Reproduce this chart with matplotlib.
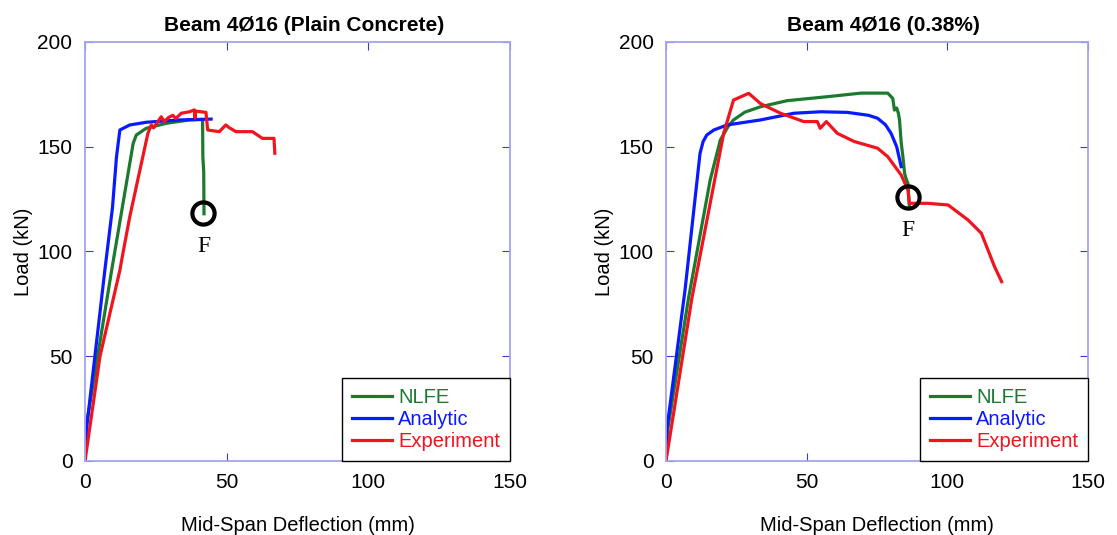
import matplotlib.pyplot as plt

plt.rcParams['font.family'] = ['Liberation Sans', 'DejaVu Sans']

# ---- Beam 4Ø16 (Plain Concrete) ----
nlfe1_x = [0, 0.6, 9.4, 17.0, 18.1, 21.6, 28.7, 36.9, 41.5, 41.6, 41.9, 42.0]
nlfe1_y = [0, 18, 91, 151.6, 155.6, 158.8, 161.2, 162.8, 163.0, 145, 138, 118]
analytic1_x = [0, 0.5, 7.0, 9.7, 11.1, 12.3, 15.8, 21.7, 33.4, 44.5]
analytic1_y = [0, 15, 91, 121, 145, 158, 160.4, 161.7, 162.8, 163.2]
exp1_x = [0, 5.3, 12.3, 13.5, 15.8, 22.2, 23.4, 24.2, 26.9, 28.0, 29.5, 31.0, 32.0,
          34.0, 36.9, 38.6, 38.8, 39.1, 42.7, 43.3, 47.4, 49.7, 51.0, 53.3, 59.1,
          62.6, 66.7, 67.0]
exp1_y = [0, 50, 91, 100, 116.6, 156.4, 160.4, 159.0, 164.3, 162.0, 164.0, 165.0, 163.5,
          166.0, 166.7, 167.6, 163.7, 167.0, 166.4, 158.0, 157.2, 160.4, 159.0, 157.2, 157.2,
          154.0, 154.0, 146.9]
fail1 = (41.8, 118.2)

# ---- Beam 4Ø16 (0.38%) ----
nlfe2_x = [0, 0.6, 8.0, 15.7, 19.3, 22.0, 24.0, 28.0, 33.6, 43.1, 57.4, 69.3, 78.8, 80.6, 81.2,
           82.0, 82.6, 83.0, 83.6, 84.2, 84.8, 85.4, 86.0, 86.5]
nlfe2_y = [0, 15, 77.7, 134.1, 153.2, 159.5, 162.8, 166.5, 169.1, 172.0, 173.9, 175.6, 175.6,
           173.1, 167.5, 168.5, 166.0, 162.8, 152.0, 145.3, 137.3, 134.5, 132.5, 121.4]
analytic2_x = [0, 0.3, 6.8, 12.1, 13.2, 14.5, 17.0, 21.7, 33.6, 45.5, 55.0, 64.5, 72.0,
               75.2, 78.0, 80.0, 82.0, 83.6]
analytic2_y = [0, 15, 82, 146.9, 152.5, 155.6, 158.0, 160.4, 162.8, 166.0, 166.7, 166.4,
               165.0, 163.6, 160.5, 156.4, 150.0, 140.5]
exp2_x = [0, 9.2, 20.5, 24.0, 29.4, 33.6, 40.7, 49.0, 53.8, 54.8, 57.0, 60.9, 66.9,
          75.2, 78.8, 83.6, 86.0, 86.5, 93.1, 100.3, 107.4, 112.1, 116.8, 119.3]
exp2_y = [0, 77.7, 156.4, 172.3, 175.5, 170.6, 166.0, 162.0, 162.0, 158.8, 162.0, 156.4, 152.5,
          149.3, 145.3, 136.5, 129.4, 123.0, 123.0, 122.2, 115.0, 108.7, 92.7, 85.6]
fail2 = (86.0, 126.2)

green = '#1b7a2e'
blue = '#0a1aff'
red = '#f0141e'
spine_col = '#a4a4f2'
tick_col = '#3a3ad0'

fig = plt.figure(figsize=(11.17, 5.35), dpi=100)
ax1 = fig.add_axes([85/1117, 74/535, 425/1117, 419/535])
ax2 = fig.add_axes([666/1117, 74/535, 422/1117, 419/535])

panels = [
    (ax1, 'Beam 4Ø16 (Plain Concrete)', nlfe1_x, nlfe1_y, analytic1_x, analytic1_y,
     exp1_x, exp1_y, fail1),
    (ax2, 'Beam 4Ø16 (0.38%)', nlfe2_x, nlfe2_y, analytic2_x, analytic2_y,
     exp2_x, exp2_y, fail2),
]

for ax, title, nx, ny, ax_, ay, ex, ey, fail in panels:
    ax.plot(nx, ny, color=green, lw=2.3, label='NLFE')
    ax.plot(ax_, ay, color=blue, lw=2.3, label='Analytic')
    ax.plot(ex, ey, color=red, lw=2.3, label='Experiment')
    ax.plot([fail[0]], [fail[1]], marker='o', ms=16, mfc='none', mec='black', mew=3.0)
    ax.text(fail[0], fail[1] - 16, 'F', family=['Liberation Serif'], fontsize=17,
            ha='center', va='center')
    ax.set_xlim(0, 150)
    ax.set_ylim(0, 200)
    ax.set_xticks([0, 50, 100, 150])
    ax.set_yticks([0, 50, 100, 150, 200])
    ax.tick_params(direction='in', top=True, right=True, length=6, color=tick_col,
                   labelsize=15, pad=9)
    for s in ax.spines.values():
        s.set_color(spine_col)
        s.set_linewidth(1.3)
    ax.set_title(title, fontsize=15, fontweight='bold', pad=8, x=0.515)
    ax.set_xlabel('Mid-Span Deflection (mm)', fontsize=14.5, labelpad=17)
    ax.set_ylabel('Load (kN)', fontsize=14.5, labelpad=3)
    leg = ax.legend(loc='lower right', fontsize=14.5, labelcolor='linecolor', fancybox=False,
                    framealpha=1, edgecolor='black', borderaxespad=0, handlelength=2.0,
                    labelspacing=0.14, handletextpad=0.3, borderpad=0.5)
    leg.get_frame().set_linewidth(1.0)

fig.savefig('out.png', dpi=100)
